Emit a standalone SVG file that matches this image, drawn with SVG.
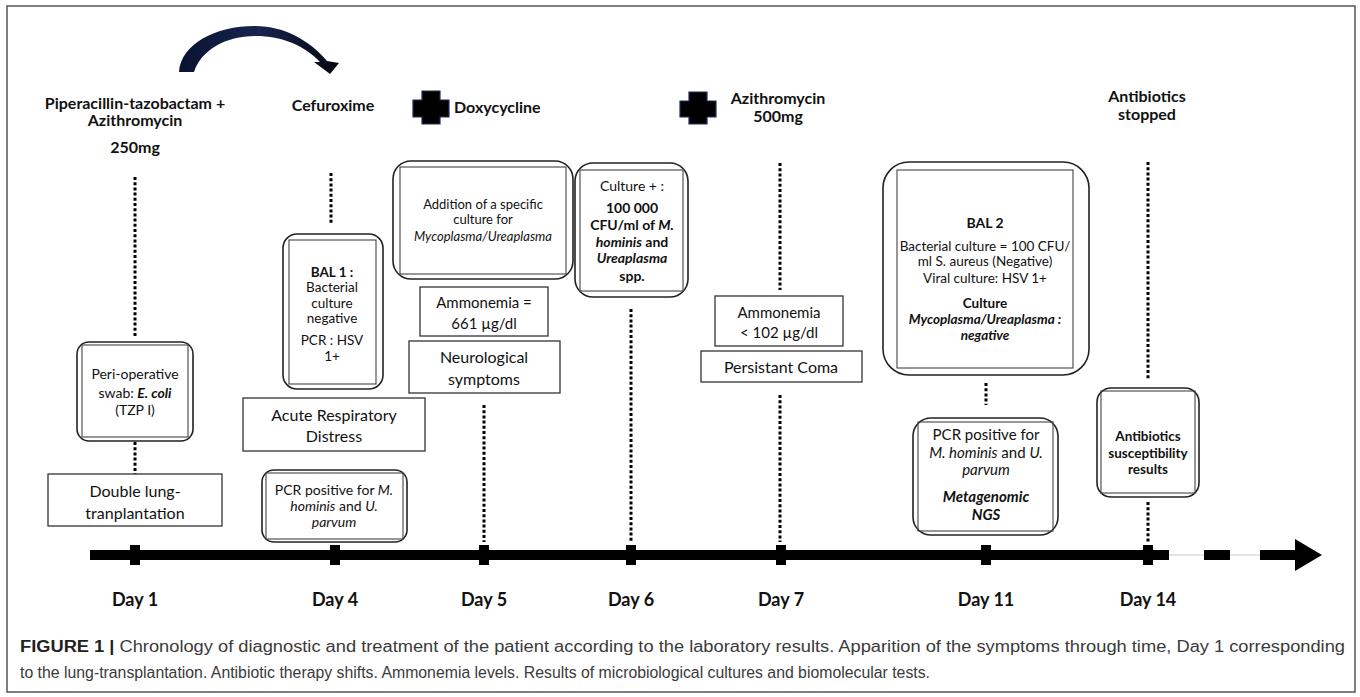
<svg xmlns="http://www.w3.org/2000/svg" width="1360" height="697" viewBox="0 0 1360 697">
<style>
.frame{fill:#fff;stroke:#555;stroke-width:1.5}
.box{fill:#fff;stroke:#333;stroke-width:1.3}
.rbox{fill:#fff;stroke:#222;stroke-width:1.6}
.inner{fill:none;stroke:#444;stroke-width:1.1}
.dot{stroke:#000;stroke-width:3;stroke-dasharray:3 2.2;fill:none}
.t{font-family:Lato,'Liberation Sans',sans-serif;fill:#111;text-anchor:middle}
.b{font-weight:bold}
.i{font-style:italic}
.cap{font-family:'Liberation Sans Narrow','Liberation Sans',sans-serif;font-size:16px;fill:#3a3a3a}
.day{font-family:Lato,'Liberation Sans',sans-serif;font-weight:bold;font-size:18px;fill:#111;text-anchor:middle}
.cross{fill:#000;stroke:#1f2d5c;stroke-width:1.2}
</style>
<defs>
<linearGradient id="arcg" x1="0" y1="0" x2="1" y2="0">
<stop offset="0" stop-color="#0a1230"/>
<stop offset="0.5" stop-color="#16244f"/>
<stop offset="1" stop-color="#05070f"/>
</linearGradient>
</defs>
<rect class="frame" x="7" y="6" width="1348" height="686"/>

<g id="switch-arrow">
<path d="M179,72 C181,44 215,26 255,26 C285,26 310,41 327,61 L339,63 L330,74 L314,62 L320,62 C305,46 283,36 255,36 C226,36 201,50 194,72 Z" fill="url(#arcg)"/>
</g>

<g id="drug-day1">
<text class="t b" font-size="16" x="135" y="109">Piperacillin-tazobactam +</text>
<text class="t b" font-size="16" x="135" y="126">Azithromycin</text>
<text class="t b" font-size="16" x="135" y="153">250mg</text>
</g>
<g id="drug-day4">
<text class="t b" font-size="16" x="333" y="111">Cefuroxime</text>
</g>
<g id="drug-day5">
<polygon class="cross" points="422,91 440,91 440,100 449,100 449,117 440,117 440,124 422,124 422,117 413,117 413,100 422,100"/>
<text class="t b" font-size="16" x="454" y="113" style="text-anchor:start">Doxycycline</text>
</g>
<g id="drug-day7">
<polygon class="cross" points="689,92 707,92 707,101 716,101 716,117 707,117 707,124 689,124 689,117 680,117 680,101 689,101"/>
<text class="t b" font-size="16" x="778" y="104">Azithromycin</text>
<text class="t b" font-size="16" x="778" y="122">500mg</text>
</g>
<g id="drug-day14">
<text class="t b" font-size="16" x="1147" y="102">Antibiotics</text>
<text class="t b" font-size="16" x="1147" y="120">stopped</text>
</g>

<g id="connectors">
<line class="dot" x1="135" y1="177" x2="135" y2="338"/>
<line class="dot" x1="135" y1="442" x2="135" y2="474"/>
<line class="dot" x1="331" y1="173" x2="331" y2="224"/>
<line class="dot" x1="484" y1="405" x2="484" y2="542"/>
<line class="dot" x1="631" y1="309" x2="631" y2="542"/>
<line class="dot" x1="780" y1="163" x2="780" y2="290"/>
<line class="dot" x1="780" y1="395" x2="780" y2="542"/>
<line class="dot" x1="986" y1="383" x2="986" y2="405"/>
<line class="dot" x1="1148" y1="162" x2="1148" y2="380"/>
<line class="dot" x1="1148" y1="502" x2="1148" y2="542"/>
</g>

<g id="peri-operative">
<rect class="rbox" x="77" y="342" width="116" height="99" rx="12"/>
<rect class="inner" x="82" y="345" width="106" height="92"/>
<text class="t" font-size="14" x="135" y="379">Peri-operative</text>
<text class="t" font-size="14" x="135" y="398">swab: <tspan class="b i">E. coli</tspan></text>
<text class="t" font-size="14" x="135" y="415">(TZP I)</text>
</g>
<g id="double-lung">
<rect class="box" x="48" y="474" width="174" height="52"/>
<text class="t" font-size="16" x="135" y="497">Double lung-</text>
<text class="t" font-size="16" x="135" y="519">tranplantation</text>
</g>

<g id="bal1">
<rect class="rbox" x="283" y="234" width="100" height="155" rx="14"/>
<rect class="inner" x="289" y="240" width="87" height="144"/>
<text class="t b" font-size="13.5" x="332" y="277">BAL 1 :</text>
<text class="t" font-size="13.5" x="332" y="292">Bacterial</text>
<text class="t" font-size="13.5" x="332" y="308">culture</text>
<text class="t" font-size="13.5" x="332" y="323">negative</text>
<text class="t" font-size="13.5" x="332" y="345">PCR : HSV</text>
<text class="t" font-size="13.5" x="332" y="361">1+</text>
</g>
<g id="acute-resp">
<rect class="box" x="243" y="398" width="182" height="53"/>
<text class="t" font-size="16" x="334" y="421">Acute Respiratory</text>
<text class="t" font-size="16" x="334" y="442">Distress</text>
</g>
<g id="pcr-day4">
<rect class="rbox" x="262" y="470" width="145" height="72" rx="12"/>
<rect class="inner" x="266" y="473" width="137" height="66"/>
<text class="t" font-size="14" x="334" y="495">PCR positive for <tspan class="i">M.</tspan></text>
<text class="t" font-size="14" x="334" y="511"><tspan class="i">hominis</tspan> and <tspan class="i">U.</tspan></text>
<text class="t i" font-size="14" x="334" y="527">parvum</text>
</g>

<g id="addition">
<rect class="rbox" x="393" y="161" width="180" height="118" rx="18"/>
<rect class="inner" x="400" y="167" width="166" height="107"/>
<text class="t" font-size="13" x="483" y="209">Addition of a specific</text>
<text class="t" font-size="13" x="483" y="224">culture for</text>
<text class="t i" font-size="13" x="483" y="241">Mycoplasma/Ureaplasma</text>
</g>
<g id="ammonemia-661">
<rect class="box" x="420" y="287" width="128" height="49"/>
<text class="t" font-size="15" x="484" y="308">Ammonemia =</text>
<text class="t" font-size="15" x="484" y="329">661 µg/dl</text>
</g>
<g id="neuro">
<rect class="box" x="409" y="341" width="151" height="52"/>
<text class="t" font-size="16" x="484" y="363">Neurological</text>
<text class="t" font-size="16" x="484" y="385">symptoms</text>
</g>

<g id="culture-plus">
<rect class="rbox" x="575" y="163" width="113" height="134" rx="18"/>
<rect class="inner" x="580" y="170" width="103" height="121"/>
<text class="t" font-size="14" x="632" y="191">Culture + :</text>
<text class="t b" font-size="14" x="632" y="213">100 000</text>
<text class="t b" font-size="14" x="632" y="230">CFU/ml of <tspan class="i">M.</tspan></text>
<text class="t b" font-size="14" x="632" y="247"><tspan class="i">hominis</tspan> and</text>
<text class="t b i" font-size="14" x="632" y="263">Ureaplasma</text>
<text class="t b" font-size="14" x="632" y="281">spp.</text>
</g>

<g id="ammonemia-102">
<rect class="box" x="715" y="296" width="128" height="50"/>
<text class="t" font-size="15" x="779" y="318">Ammonemia</text>
<text class="t" font-size="15" x="779" y="338">&lt; 102 µg/dl</text>
</g>
<g id="coma">
<rect class="box" x="701" y="351" width="161" height="31"/>
<text class="t" font-size="16" x="781" y="373">Persistant Coma</text>
</g>

<g id="bal2">
<rect class="rbox" x="883" y="162" width="206" height="213" rx="26"/>
<rect class="inner" x="897" y="170" width="176" height="198"/>
<text class="t b" font-size="14" x="985" y="228">BAL 2</text>
<text class="t" font-size="13.5" x="985" y="251">Bacterial culture = 100 CFU/</text>
<text class="t" font-size="13.5" x="985" y="266">ml S. aureus (Negative)</text>
<text class="t" font-size="13.5" x="985" y="283">Viral culture: HSV 1+</text>
<text class="t b" font-size="13.5" x="985" y="308">Culture</text>
<text class="t b i" font-size="13.5" x="985" y="324">Mycoplasma/Ureaplasma :</text>
<text class="t b i" font-size="13.5" x="985" y="340">negative</text>
</g>
<g id="pcr-day11">
<rect class="rbox" x="913" y="418" width="145" height="117" rx="18"/>
<rect class="inner" x="918" y="422" width="135" height="109"/>
<text class="t" font-size="15" x="986" y="440">PCR positive for</text>
<text class="t" font-size="15" x="986" y="458"><tspan class="i">M. hominis</tspan> and <tspan class="i">U.</tspan></text>
<text class="t i" font-size="15" x="986" y="475">parvum</text>
<text class="t b i" font-size="15" x="986" y="502">Metagenomic</text>
<text class="t b i" font-size="15" x="986" y="520">NGS</text>
</g>
<g id="susceptibility">
<rect class="rbox" x="1097" y="388" width="102" height="109" rx="14"/>
<rect class="inner" x="1101" y="391" width="94" height="102"/>
<text class="t b" font-size="13.5" x="1148" y="441">Antibiotics</text>
<text class="t b" font-size="13.5" x="1148" y="458">susceptibility</text>
<text class="t b" font-size="13.5" x="1148" y="474">results</text>
</g>

<g id="timeline">
<line x1="1169" y1="555" x2="1296" y2="555" stroke="#c8c8c8" stroke-width="1"/>
<rect x="90" y="550" width="1079" height="10" fill="#000"/>
<rect x="1204" y="550" width="26" height="10" fill="#000"/>
<rect x="1260" y="550" width="36" height="10" fill="#000"/>
<polygon points="1295,539 1322,555 1295,571" fill="#000"/>
<rect x="130" y="545" width="10" height="20" fill="#000"/>
<rect x="330" y="545" width="10" height="20" fill="#000"/>
<rect x="479" y="545" width="10" height="20" fill="#000"/>
<rect x="626" y="545" width="10" height="20" fill="#000"/>
<rect x="776" y="545" width="10" height="20" fill="#000"/>
<rect x="981" y="545" width="10" height="20" fill="#000"/>
<rect x="1143" y="545" width="10" height="20" fill="#000"/>
<text class="day" x="135" y="606">Day 1</text>
<text class="day" x="335" y="606">Day 4</text>
<text class="day" x="484" y="606">Day 5</text>
<text class="day" x="631" y="606">Day 6</text>
<text class="day" x="781" y="606">Day 7</text>
<text class="day" x="986" y="606">Day 11</text>
<text class="day" x="1148" y="606">Day 14</text>
</g>

<g id="caption">
<text class="cap" x="20" y="652" textLength="1325" lengthAdjust="spacingAndGlyphs"><tspan font-weight="bold" fill="#222">FIGURE 1 |</tspan> Chronology of diagnostic and treatment of the patient according to the laboratory results. Apparition of the symptoms through time, Day 1 corresponding</text>
<text class="cap" x="20" y="678" textLength="910" lengthAdjust="spacingAndGlyphs">to the lung-transplantation. Antibiotic therapy shifts. Ammonemia levels. Results of microbiological cultures and biomolecular tests.</text>
</g>
</svg>
